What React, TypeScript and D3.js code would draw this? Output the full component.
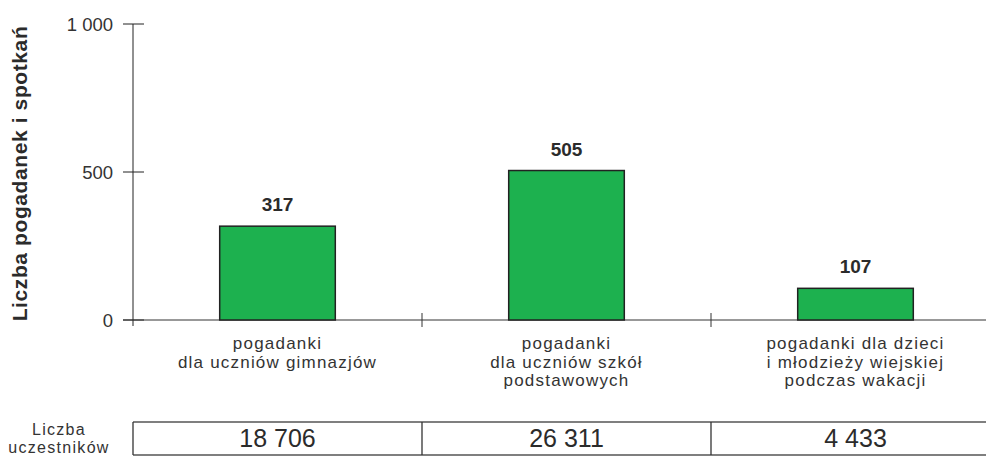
import { useEffect, useRef } from 'react';
import * as d3 from 'd3';

const categories = ['gimnazja', 'szkoly', 'wakacje'];
const values = [317, 505, 107];
const participants = ['18 706', '26 311', '4 433'];
const categoryLines = [
  ['pogadanki', 'dla uczniów gimnazjów'],
  ['pogadanki', 'dla uczniów szkół', 'podstawowych'],
  ['pogadanki dla dzieci', 'i młodzieży wiejskiej', 'podczas wakacji'],
];
const yTicks = [0, 500, 1000];
const yTickLabels = ['0', '500', '1 000'];

const W = 986;
const H = 456;
const M = { top: 24, left: 133, bottom: 136, right: -14 };
const TEXT = '#2b2b2b';
const FONT = '"Liberation Sans", Arial, sans-serif';

export default function App() {
  const svgRef = useRef<SVGSVGElement>(null);

  useEffect(() => {
    const svg = d3.select(svgRef.current!);
    svg.selectAll('*').remove();

    const x = d3
      .scaleBand<string>()
      .domain(categories)
      .range([M.left, W - M.right]);
    const y = d3
      .scaleLinear()
      .domain([0, 1000])
      .range([H - M.bottom, M.top]);

    const y0 = y(0);
    const barW = x.bandwidth() * 0.4;

    // y axis
    svg.append('line')
      .attr('x1', M.left).attr('x2', M.left)
      .attr('y1', y(1000)).attr('y2', y0 + 6)
      .attr('stroke', '#222').attr('stroke-width', 1);

    yTicks.forEach((t, i) => {
      svg.append('line')
        .attr('x1', M.left - 10).attr('x2', M.left + 11)
        .attr('y1', y(t)).attr('y2', y(t))
        .attr('stroke', '#222').attr('stroke-width', 1);
      svg.append('text')
        .attr('x', M.left - 20)
        .attr('y', y(t) + 7)
        .attr('text-anchor', 'end')
        .attr('font-family', FONT)
        .attr('font-size', 18.5)
        .attr('fill', '#333')
        .text(yTickLabels[i]);
    });

    // x axis baseline
    svg.append('line')
      .attr('x1', M.left - 10).attr('x2', W)
      .attr('y1', y0).attr('y2', y0)
      .attr('stroke', '#333').attr('stroke-width', 1);

    categories.slice(1).forEach((c) => {
      svg.append('line')
        .attr('x1', x(c)!).attr('x2', x(c)!)
        .attr('y1', y0 - 7).attr('y2', y0 + 7)
        .attr('stroke', '#333').attr('stroke-width', 1);
    });

    // bars
    categories.forEach((c, i) => {
      const cx = x(c)! + x.bandwidth() / 2;
      svg.append('rect')
        .attr('x', cx - barW / 2)
        .attr('y', y(values[i]))
        .attr('width', barW)
        .attr('height', y0 - y(values[i]))
        .attr('fill', '#1db14f')
        .attr('stroke', '#222')
        .attr('stroke-width', 1.5);
      svg.append('text')
        .attr('x', cx)
        .attr('y', y(values[i]) - 15)
        .attr('text-anchor', 'middle')
        .attr('font-family', FONT)
        .attr('font-weight', 'bold')
        .attr('font-size', 19)
        .attr('fill', TEXT)
        .text(values[i]);

      categoryLines[i].forEach((line, j) => {
        svg.append('text')
          .attr('x', cx)
          .attr('y', y0 + 29 + j * 18.5)
          .attr('text-anchor', 'middle')
          .attr('font-family', FONT)
          .attr('font-size', 17)
          .attr('letter-spacing', 1.2)
          .attr('fill', '#333')
          .text(line);
      });
    });

    // y axis title
    svg.append('text')
      .attr('transform', `translate(27,${(y(1000) + y0) / 2 + 1.5}) rotate(-90)`)
      .attr('text-anchor', 'middle')
      .attr('font-family', FONT)
      .attr('font-weight', 'bold')
      .attr('font-size', 21)
      .attr('letter-spacing', 0.6)
      .attr('fill', TEXT)
      .text('Liczba pogadanek i spotkań');

    // participants table
    const tTop = 422;
    const tBot = 455;
    svg.append('line')
      .attr('x1', M.left).attr('x2', W)
      .attr('y1', tTop).attr('y2', tTop)
      .attr('stroke', '#555').attr('stroke-width', 1.3);
    svg.append('line')
      .attr('x1', M.left).attr('x2', W)
      .attr('y1', tBot).attr('y2', tBot)
      .attr('stroke', '#555').attr('stroke-width', 1.3);
    categories.forEach((c, i) => {
      svg.append('line')
        .attr('x1', x(c)!).attr('x2', x(c)!)
        .attr('y1', tTop).attr('y2', tBot)
        .attr('stroke', '#333').attr('stroke-width', 1.3);
      svg.append('text')
        .attr('x', x(c)! + x.bandwidth() / 2)
        .attr('y', 447)
        .attr('text-anchor', 'middle')
        .attr('font-family', FONT)
        .attr('font-size', 25)
        .attr('fill', TEXT)
        .text(participants[i]);
    });

    ['Liczba', 'uczestników'].forEach((line, j) => {
      svg.append('text')
        .attr('x', 59)
        .attr('y', 435 + j * 18)
        .attr('text-anchor', 'middle')
        .attr('font-family', FONT)
        .attr('font-size', 16)
        .attr('letter-spacing', 1.3)
        .attr('fill', '#333')
        .text(line);
    });
  }, []);

  return (
    <div style={{ position: 'fixed', left: 0, top: 0, width: W, height: H, background: '#fff' }}>
      <svg ref={svgRef} width={W} height={H} />
    </div>
  );
}
